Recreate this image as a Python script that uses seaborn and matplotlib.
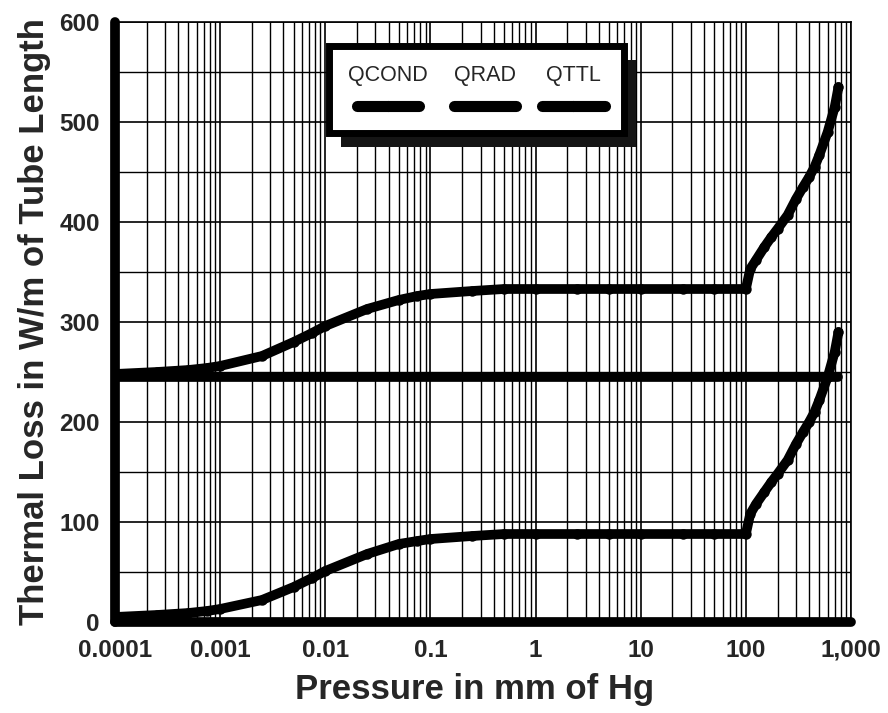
import numpy as np
import pandas as pd
import seaborn as sns
import matplotlib
matplotlib.use("Agg")
import matplotlib.pyplot as plt
from matplotlib.lines import Line2D
from matplotlib.patches import Rectangle
from matplotlib.offsetbox import VPacker
from matplotlib.ticker import FixedLocator, LogLocator, NullFormatter
import matplotlib.transforms as mtransforms

# ---- data ----
pressure = [0.0001, 0.00025, 0.0005, 0.00075, 0.001, 0.0025, 0.005, 0.0075, 0.01,
            0.025, 0.05, 0.075, 0.1, 0.25, 0.5, 1, 2.5, 5, 10, 25, 50, 100,
            110, 125, 150, 175, 200, 250, 300, 350, 400, 450, 500, 600, 700, 760]
qcond = [5, 7, 9, 11, 13, 22, 35, 44, 51,
         68, 78, 81, 83, 86, 88, 88, 88, 88, 88, 88, 88, 88,
         108, 118, 130, 140, 148, 162, 178, 190, 200, 210, 222, 245, 270, 290]
qrad = [245] * len(pressure)
qttl = [248, 250, 252, 254, 256, 266, 280, 289, 296,
        313, 322, 326, 328, 331, 333, 333, 333, 333, 333, 333, 333, 333,
        353, 362, 375, 385, 393, 407, 423, 435, 445, 455, 467, 490, 515, 535]
series_names = ["QCOND", "QRAD", "QTTL"]
x_ticks = [0.0001, 0.001, 0.01, 0.1, 1, 10, 100, 1000]
x_ticklabels = ["0.0001", "0.001", "0.01", "0.1", "1", "10", "100", "1,000"]
y_ticks = [0, 100, 200, 300, 400, 500, 600]

df = pd.DataFrame({
    "Pressure": pressure * 3,
    "Value": qcond + qrad + qttl,
    "Series": ["QCOND"] * len(pressure) + ["QRAD"] * len(pressure) + ["QTTL"] * len(pressure),
})

sns.set_style("white")
plt.rcParams["font.family"] = ["Liberation Sans", "DejaVu Sans"]

fig = plt.figure(figsize=(8.88, 7.13), dpi=100)
ax = fig.add_axes([115 / 888, 91 / 713, 736 / 888, 600 / 713])

lw = 7
markers = {"QCOND": "o", "QRAD": "", "QTTL": "o"}
for name in series_names:
    sub = df[df["Series"] == name]
    sns.lineplot(data=sub, x="Pressure", y="Value", ax=ax, color="black",
                 linewidth=lw, marker=markers[name] if markers[name] else None,
                 markersize=7.5, markeredgewidth=0, solid_capstyle="round",
                 legend=False, zorder=3)

ax.set_xscale("log")
ax.set_xlim(0.0001, 1000)
ax.set_ylim(0, 600)

ax.xaxis.set_major_locator(FixedLocator(x_ticks))
ax.set_xticklabels(x_ticklabels)
ax.xaxis.set_minor_locator(LogLocator(base=10, subs=np.arange(2, 10), numticks=100))
ax.xaxis.set_minor_formatter(NullFormatter())
ax.set_yticks(y_ticks)
ax.yaxis.set_minor_locator(FixedLocator(np.arange(50, 600, 100)))

ax.grid(True, which="major", axis="both", color="black", linewidth=1.2)
ax.grid(True, which="minor", axis="both", color="black", linewidth=1.0)
ax.set_axisbelow(True)

ax.tick_params(axis="both", which="both", length=0)
ax.tick_params(axis="x", pad=12, labelsize=17.5)
ax.tick_params(axis="y", pad=11, labelsize=17.5)
for lab in ax.get_xticklabels() + ax.get_yticklabels():
    lab.set_fontweight("bold")

for side in ["top", "right"]:
    ax.spines[side].set_linewidth(1.2)
    ax.spines[side].set_color("black")
for side in ["left", "bottom"]:
    ax.spines[side].set_linewidth(7)
    ax.spines[side].set_color("black")
    ax.spines[side].set_capstyle("round")
    ax.spines[side].set_zorder(4)

ax.set_xlabel("Pressure in mm of Hg", fontsize=25, fontweight="bold", labelpad=4)
ax.xaxis.set_label_coords(0.488, -0.085)
ax.set_ylabel("Thermal Loss in W/m of Tube Length", fontsize=25, fontweight="bold", labelpad=6)

# legend
handles = [Line2D([], [], color="black", linewidth=lw + 1, solid_capstyle="round",
                  marker=markers[n] if markers[n] else None, markersize=8, markeredgewidth=0)
           for n in series_names]
leg = ax.legend(handles, series_names, ncol=3, loc="upper center",
                bbox_to_anchor=(0.491, 0.978), frameon=True, fancybox=False,
                fontsize=15.5, handlelength=2.9, columnspacing=1.2,
                borderpad=0.9, handletextpad=0.4, edgecolor="black")
leg.get_frame().set_linewidth(5)
leg.get_frame().set_facecolor("white")
leg.get_frame().set_alpha(1)
leg.set_zorder(6)
for col in leg._legend_handle_box.get_children():
    for item in col.get_children():
        h, t = item.get_children()
        item.__class__ = VPacker
        item._children = [t, h]
        item.align = "center"
        item.sep = 9

fig.canvas.draw()
bb = leg.get_frame().get_window_extent()
shadow = Rectangle((bb.x0 + 12, bb.y0 - 14), bb.width, bb.height,
                   transform=mtransforms.IdentityTransform(),
                   facecolor="#151515", edgecolor="none", zorder=5)
ax.add_patch(shadow)

fig.savefig("out.png", dpi=100)
